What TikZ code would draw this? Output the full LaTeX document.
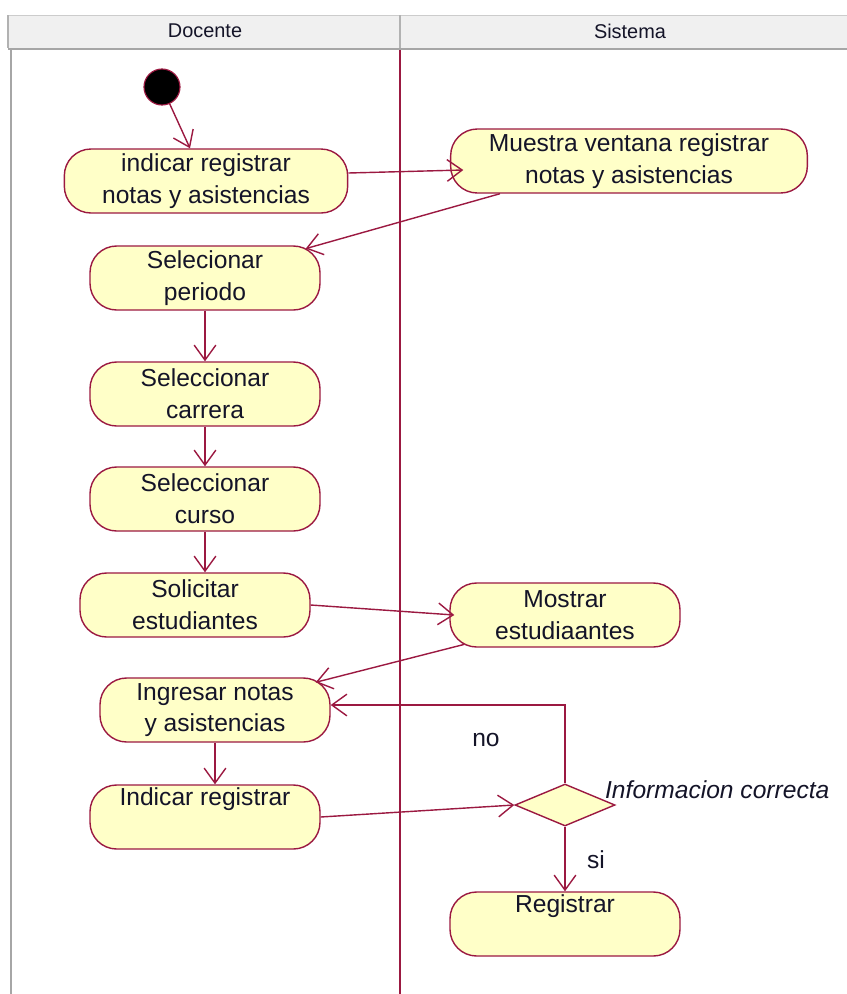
\documentclass[tikz,border=0pt]{standalone}
\usepackage{fontspec}
\setmainfont{Liberation Sans}
\usepackage{xcolor}
\usetikzlibrary{arrows.meta,positioning,shapes.geometric,calc}
\definecolor{umlline}{RGB}{155,25,65}
\definecolor{umlfill}{RGB}{255,255,200}
\definecolor{headgray}{RGB}{240,240,240}
\definecolor{umltext}{RGB}{20,20,40}

\begin{document}
\begin{tikzpicture}[
        x=0.3mm,y=-0.3mm,
        every node/.style={font=\fontsize{21}{27}\selectfont,align=center,text=umltext},
        act/.style={draw=umlline,line width=1.2pt,fill=umlfill,rounded corners=8mm,
                   minimum width=69mm,minimum height=19.2mm,inner sep=2pt},
        choice/.style={draw=umlline,line width=1.2pt,fill=umlfill,diamond,
                   minimum width=30mm,minimum height=12.6mm,inner sep=0pt},
        arrow/.style={-{Straight Barb[length=4.5mm,width=6.5mm]},draw=umlline,line width=1.2pt}
    ]
        \useasboundingbox (0,0) rectangle (847,994);
        % swimlanes
        \fill[headgray] (8,15) rectangle (847,48);
        \draw[gray!40] (8,15) -- (847,15);
        \draw[gray!70,line width=1.8pt] (8,49) -- (847,49);
        \draw[gray!60,line width=1pt] (8,15) -- (8,48);
        \draw[gray!60,line width=1pt] (400,15) -- (400,48);
        \draw[gray!70,line width=1.8pt] (11,49) -- (11,994);
        \draw[umlline,line width=1.2pt] (400,50) -- (400,994);
        \node[font=\fontsize{17}{19}\selectfont] (docente) at (205,31) {Docente};
        \node[font=\fontsize{17}{19}\selectfont] (sistema) at (630,31) {Sistema};

        \node[circle,fill=black,draw=umlline,line width=1pt,minimum size=10.8mm,inner sep=0pt] (init) at (162,87) {};
        \node[act,minimum width=85mm] (indicar) at (206,181) {indicar registrar\\notas y asistencias};
        \node[act,minimum width=107mm] (muestra) at (629,161) {Muestra ventana registrar\\notas y asistencias};
        \node[act] (periodo) at (205,278) {Selecionar\\periodo};
        \node[act] (carrera) at (205,394) {Seleccionar\\carrera};
        \node[act] (curso) at (205,499) {Seleccionar\\curso};
        \node[act] (solicitar) at (195,605) {Solicitar\\estudiantes};
        \node[act] (mostrar) at (565,615) {Mostrar\\estudiaantes};
        \node[act] (ingresar) at (215,710) {Ingresar notas\\y asistencias};
        \node[act] (indreg) at (205,817) {Indicar registrar\\\strut};
        \node[choice] (decision) at (565,805) {};
        \node[act] (registrar) at (565,924) {Registrar\\\strut};

        \node[font=\itshape\fontsize{21}{24}\selectfont,anchor=west] (cond) at (601,790) {Informacion correcta};
        \node (no) at (486,740) {no};
        \node (si) at (596,860) {si};

        \draw[arrow] (init) -- ([xshift=-4.8mm]indicar.north);
        \draw[arrow] ([yshift=2.4mm]indicar.east) -- ([xshift=4mm,yshift=-2.7mm]muestra.west);
        \draw[arrow] ([xshift=-38.7mm]muestra.south) -- ([xshift=-4.5mm,yshift=-1mm]periodo.north east);
        \draw[arrow] (periodo) -- (carrera);
        \draw[arrow] (carrera) -- (curso);
        \draw[arrow] (curso.south) -- (curso.south |- solicitar.north);
        \draw[arrow] (solicitar.east) -- ([xshift=1.5mm]mostrar.west);
        \draw[arrow] ([xshift=4.5mm,yshift=1mm]mostrar.south west) -- ([xshift=-4.5mm,yshift=-1.5mm]ingresar.north east);
        \draw[arrow] (ingresar.south) -- (ingresar.south |- indreg.north);
        \draw[arrow] (indreg.east) -- (decision.west);
        \draw[arrow] (decision.north) |- ([yshift=1.5mm]ingresar.east);
        \draw[arrow] (decision.south) -- (registrar.north);
    \end{tikzpicture}
\end{document}
